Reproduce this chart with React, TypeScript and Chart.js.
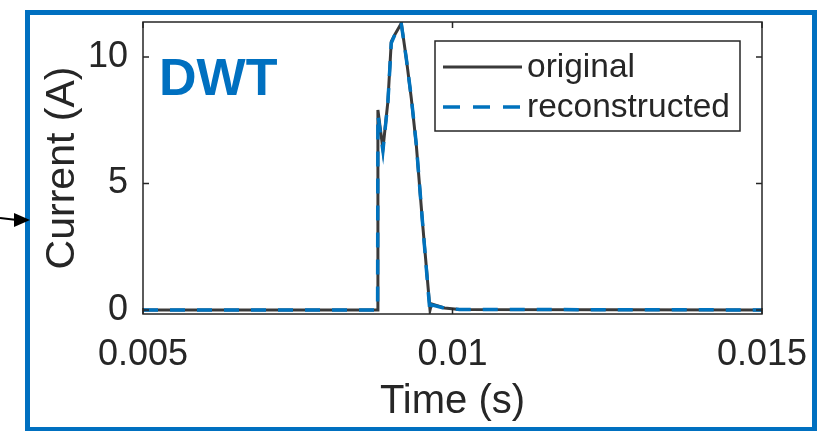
import React, { useEffect, useRef } from "react";
import { Chart, registerables } from "chart.js";

Chart.register(...registerables);

// ---- data (seconds, amperes) ----
const timeOriginal = [0.005, 0.00879, 0.008795, 0.008876, 0.008956, 0.009011, 0.009065, 0.009173, 0.009253, 0.009334, 0.009415, 0.009521, 0.009637, 0.009661, 0.009871, 0.010113, 0.015];
const currentOriginal = [0, 0, 7.9, 6.36, 8.23, 10.6, 10.87, 11.33, 9.95, 8.37, 6.52, 3.29, 0, 0.24, 0.08, 0.02, 0];
const timeReconstructed = [0.005, 0.00879, 0.008795, 0.008876, 0.008956, 0.009011, 0.009065, 0.009173, 0.009253, 0.009334, 0.009415, 0.009521, 0.009637, 0.009661, 0.009871, 0.010113, 0.015];
const currentReconstructed = [0, 0, 7.7, 6.3, 8.2, 10.55, 10.85, 11.3, 9.95, 8.4, 6.55, 3.3, -0.12, 0.2, 0.07, 0.02, 0];

const xTicks = [0.005, 0.01, 0.015];
const xTickLabels = ["0.005", "0.01", "0.015"];
const yTicks = [0, 5, 10];
const yTickLabels = ["0", "5", "10"];
const seriesNames = ["original", "reconstructed"];

const FONT = "'Liberation Sans', Arial, Helvetica, sans-serif";
const TEXT = "#262626";
const GRAY = "#3a3a3a";
const BLUE = "#0072BD";
const FRAME = "#0070C0";
const DASH = [15, 12];

const zeroPad = (s: any) => {
  s.paddingTop = 0;
  s.paddingBottom = 0;
  s.paddingLeft = 0;
  s.paddingRight = 0;
};

const decorPlugin = {
  id: "decor",
  afterDraw(chart: any) {
    const { ctx, chartArea: ca, scales } = chart;
    const xs = scales.x;
    const ys = scales.y;
    ctx.save();
    // axes box
    ctx.strokeStyle = TEXT;
    ctx.lineWidth = 1.5;
    ctx.setLineDash([]);
    ctx.strokeRect(ca.left, ca.top, ca.right - ca.left, ca.bottom - ca.top);
    // inward ticks
    const tl = 6;
    ctx.beginPath();
    xTicks.forEach((v) => {
      const px = xs.getPixelForValue(v);
      ctx.moveTo(px, ca.bottom);
      ctx.lineTo(px, ca.bottom - tl);
      ctx.moveTo(px, ca.top);
      ctx.lineTo(px, ca.top + tl);
    });
    yTicks.forEach((v) => {
      const py = ys.getPixelForValue(v);
      ctx.moveTo(ca.left, py);
      ctx.lineTo(ca.left + tl, py);
      ctx.moveTo(ca.right, py);
      ctx.lineTo(ca.right - tl, py);
    });
    ctx.stroke();

    // DWT label
    ctx.fillStyle = FRAME;
    ctx.font = `bold 52px ${FONT}`;
    ctx.textBaseline = "alphabetic";
    ctx.textAlign = "left";
    ctx.fillText("DWT", 159, 95);

    // legend
    const lx = 435, ly = 41, lw = 305, lh = 90;
    ctx.fillStyle = "#ffffff";
    ctx.fillRect(lx, ly, lw, lh);
    ctx.strokeStyle = TEXT;
    ctx.lineWidth = 1.5;
    ctx.strokeRect(lx, ly, lw, lh);
    const rows = [67, 107];
    ctx.font = `33.5px ${FONT}`;
    ctx.textBaseline = "middle";
    rows.forEach((ry, i) => {
      ctx.beginPath();
      ctx.lineWidth = i === 0 ? 3 : 3.5;
      ctx.strokeStyle = i === 0 ? GRAY : BLUE;
      ctx.setLineDash(i === 0 ? [] : [17, 13]);
      ctx.moveTo(443, ry);
      ctx.lineTo(522, ry);
      ctx.stroke();
      ctx.setLineDash([]);
      ctx.fillStyle = TEXT;
      ctx.fillText(seriesNames[i], 527, ry + 1);
    });

    // outer blue frame
    ctx.strokeStyle = FRAME;
    ctx.lineWidth = 5;
    ctx.strokeRect(27.5, 12.5, 787, 417);

    // arrow
    ctx.strokeStyle = "#000";
    ctx.fillStyle = "#000";
    ctx.lineWidth = 2;
    ctx.beginPath();
    ctx.moveTo(0, 218);
    ctx.lineTo(17, 220);
    ctx.stroke();
    ctx.beginPath();
    ctx.moveTo(14, 213);
    ctx.lineTo(30, 220);
    ctx.lineTo(14, 227);
    ctx.closePath();
    ctx.fill();
    ctx.restore();
  },
};

export default function App() {
  const ref = useRef<HTMLCanvasElement | null>(null);
  useEffect(() => {
    if (!ref.current) return;
    const chart = new Chart(ref.current, {
      type: "line",
      data: {
        datasets: [
          {
            label: seriesNames[0],
            data: timeOriginal.map((t, i) => ({ x: t, y: currentOriginal[i] })),
            borderColor: GRAY,
            borderWidth: 3,
            pointRadius: 0,
            tension: 0,
            order: 2,
          },
          {
            label: seriesNames[1],
            data: timeReconstructed.map((t, i) => ({ x: t, y: currentReconstructed[i] })),
            borderColor: BLUE,
            borderWidth: 3.5,
            borderDash: DASH,
            pointRadius: 0,
            tension: 0,
            order: 1,
          },
        ],
      },
      options: {
        animation: false,
        responsive: false,
        layout: { padding: { left: 0, right: 56, top: 22, bottom: 0 } },
        plugins: { legend: { display: false }, tooltip: { enabled: false } },
        scales: {
          x: {
            type: "linear",
            min: 0.005,
            max: 0.015,
            grid: { display: false, drawTicks: false },
            border: { display: false },
            afterBuildTicks: (s: any) => {
              s.ticks = xTicks.map((v) => ({ value: v }));
            },
            afterFit: (s: any) => {
              s.height = 117;
              zeroPad(s);
            },
            ticks: {
              autoSkip: false,
              maxRotation: 0,
              padding: 19,
              color: TEXT,
              font: { family: FONT, size: 36 },
              callback: (v: any) => xTickLabels[xTicks.indexOf(Number(v))] ?? String(v),
            },
            title: {
              display: true,
              text: "Time (s)",
              color: TEXT,
              font: { family: FONT, size: 40 },
              padding: { top: 0, bottom: 5 },
            },
          },
          y: {
            type: "linear",
            min: -0.16,
            max: 11.38,
            grid: { display: false, drawTicks: false },
            border: { display: false },
            afterBuildTicks: (s: any) => {
              s.ticks = yTicks.map((v) => ({ value: v }));
            },
            afterFit: (s: any) => {
              s.width = 143;
              zeroPad(s);
            },
            ticks: {
              autoSkip: false,
              padding: 15,
              color: TEXT,
              font: { family: FONT, size: 36 },
              callback: (v: any) => yTickLabels[yTicks.indexOf(Number(v))] ?? String(v),
            },
            title: {
              display: true,
              text: "Current (A)",
              color: TEXT,
              font: { family: FONT, size: 41 },
              padding: { top: 38, bottom: 0 },
            },
          },
        },
      },
      plugins: [decorPlugin],
    });
    return () => chart.destroy();
  }, []);
  return (
    <div style={{ position: "fixed", left: 0, top: 0, width: 818, height: 431, background: "#fff" }}>
      <canvas ref={ref} width={818} height={431} style={{ width: 818, height: 431, display: "block" }} />
    </div>
  );
}
